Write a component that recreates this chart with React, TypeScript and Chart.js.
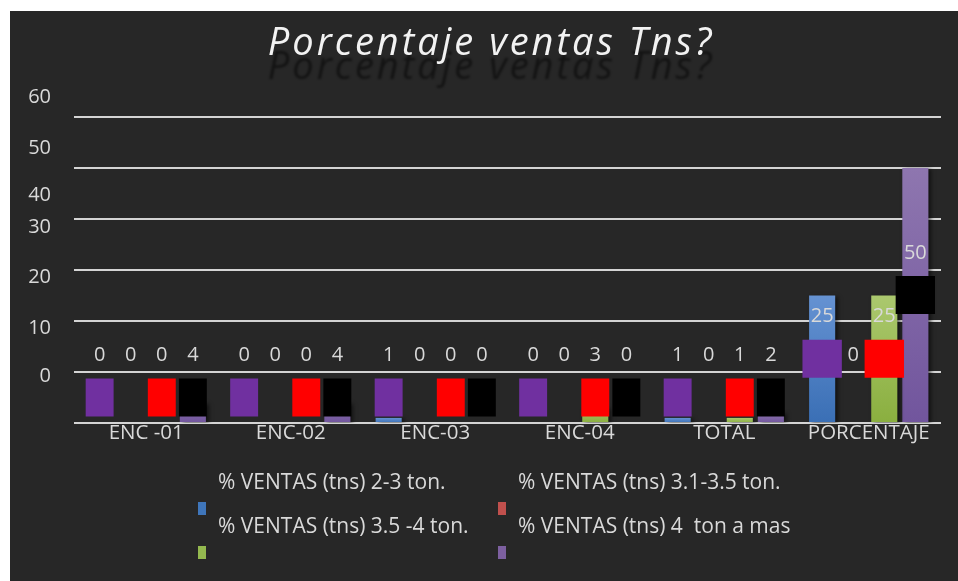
import React, { useEffect, useRef } from "react";
import { Chart, registerables } from "chart.js";

Chart.register(...registerables);

// ---------- data ----------
const titleText = "Porcentaje ventas Tns?";
const categories = ["ENC -01", "ENC-02", "ENC-03", "ENC-04", "TOTAL", "PORCENTAJE"];
const seriesNames = [
  "% VENTAS (tns) 2-3 ton.",
  "% VENTAS (tns) 3.1-3.5 ton.",
  "% VENTAS (tns) 3.5 -4 ton.",
  "% VENTAS (tns) 4  ton a mas",
];
const ventas2a3 = [0, 0, 1, 0, 1, 25];
const ventas31a35 = [0, 0, 0, 0, 0, 0];
const ventas35a4 = [0, 0, 0, 3, 1, 25];
const ventas4mas = [4, 4, 0, 0, 2, 50];
const yTickLabels = ["0", "10", "20", "30", "40", "50", "60"];
const yTickValues = [0, 10, 20, 30, 40, 50, 60];

// ---------- styles ----------
const FONT = '"Open Sans", "DejaVu Sans", sans-serif';
const TEXT = "#d9d9d9";
const BG = "#272727";
const barGradients = [
  ["#6592d2", "#3a6fb5"],
  ["#d0605c", "#b03c39"],
  ["#abc86e", "#8aaf3f"],
  ["#8e76af", "#71559d"],
];
const legendColors = ["#3f76bb", "#c0504d", "#94b94f", "#7d60a0"];
const boxColors = ["#7030a0", null, "#ff0000", "#000000"];
const yLabelShift = [47, 44, 44, 43, 24, 20, 20];

function gradFill(i: number) {
  return (ctx: any) => {
    const chart = ctx.chart;
    const area = chart.chartArea;
    if (!area || ctx.type !== "data") return barGradients[i][1];
    const ys = chart.scales.y;
    const top = ys.getPixelForValue(ctx.raw);
    const base = ys.getPixelForValue(0);
    if (base - top < 1) return barGradients[i][1];
    const g = chart.ctx.createLinearGradient(0, top, 0, base);
    g.addColorStop(0, barGradients[i][0]);
    g.addColorStop(1, barGradients[i][1]);
    return g;
  };
}

const decorPlugin = {
  id: "decor",
  beforeDatasetsDraw(chart: any) {
    const ctx = chart.ctx;
    ctx.save();
    ctx.shadowColor = "rgba(0,0,0,0.55)";
    ctx.shadowBlur = 4;
    ctx.shadowOffsetX = 3;
    ctx.shadowOffsetY = 1;
  },
  afterDatasetsDraw(chart: any) {
    const ctx = chart.ctx;
    ctx.restore();
    const ys = chart.scales.y;
    const minCenter = ys.getPixelForValue(5);
    ctx.save();
    ctx.font = `20px ${FONT}`;
    const items: any[] = [];
    chart.data.datasets.forEach((ds: any, i: number) => {
      const meta = chart.getDatasetMeta(i);
      meta.data.forEach((bar: any, j: number) => {
        const center = (bar.y + bar.base) / 2;
        const cy = Math.min(center, minCenter);
        items.push({ i, x: bar.x, cy, text: String(ds.data[j]) });
      });
    });
    // label boxes
    items.forEach((it) => {
      const c = boxColors[it.i];
      if (!c) return;
      const w = ctx.measureText(it.text).width + 16.5;
      ctx.fillStyle = c;
      ctx.fillRect(it.x - w / 2, it.cy - 19, w, 38);
    });
    // value labels
    ctx.fillStyle = TEXT;
    ctx.textAlign = "center";
    ctx.textBaseline = "middle";
    items.forEach((it) => {
      ctx.fillText(it.text, it.x, it.cy - 42);
    });
    ctx.restore();
  },
  afterDraw(chart: any) {
    const ctx = chart.ctx;
    const area = chart.chartArea;
    const xs = chart.scales.x;
    const ys = chart.scales.y;
    ctx.save();
    // title with shadow-reflection
    ctx.font = `italic 38px ${FONT}`;
    ctx.textAlign = "center";
    ctx.textBaseline = "alphabetic";
    (ctx as any).letterSpacing = "3px";
    ctx.save();
    ctx.filter = "blur(1px)";
    ctx.fillStyle = "rgba(0,0,0,0.5)";
    ctx.fillText(titleText, 481, 68);
    ctx.restore();
    ctx.fillStyle = "#f2f2f2";
    ctx.fillText(titleText, 481, 44);
    (ctx as any).letterSpacing = "0px";

    // y tick labels
    ctx.font = `20px ${FONT}`;
    ctx.fillStyle = TEXT;
    ctx.textAlign = "right";
    ctx.textBaseline = "middle";
    yTickValues.forEach((v, k) => {
      ctx.fillText(yTickLabels[k], 41, ys.getPixelForValue(v) - yLabelShift[k]);
    });

    // x labels
    ctx.font = `20.5px ${FONT}`;
    ctx.textAlign = "center";
    ctx.textBaseline = "alphabetic";
    categories.forEach((c, j) => {
      ctx.fillText(c, xs.getPixelForValue(j), area.bottom + 16);
    });

    // legend
    ctx.font = `21px ${FONT}`;
    const cols = [208, 508];
    const rows = [478, 522];
    ctx.textAlign = "left";
    seriesNames.forEach((name, i) => {
      const col = i % 2;
      const row = Math.floor(i / 2);
      ctx.fillStyle = TEXT;
      ctx.fillText(name, cols[col], rows[row]);
      ctx.fillStyle = legendColors[i];
      ctx.fillRect(cols[col] - 20, rows[row] + 13, 8, 13);
    });
    ctx.restore();
  },
};

export default function App() {
  const ref = useRef<HTMLCanvasElement | null>(null);
  useEffect(() => {
    if (!ref.current) return;
    const seriesData = [ventas2a3, ventas31a35, ventas35a4, ventas4mas];
    const chart = new Chart(ref.current, {
      type: "bar",
      data: {
        labels: categories,
        datasets: seriesData.map((d, i) => ({
          label: seriesNames[i],
          data: d,
          backgroundColor: gradFill(i),
          borderWidth: 0,
          categoryPercentage: 0.86,
          barPercentage: 0.84,
        })),
      },
      options: {
        animation: false,
        responsive: true,
        maintainAspectRatio: false,
        layout: { padding: { left: 64, right: 17, top: 106, bottom: 158 } },
        plugins: {
          legend: { display: false },
          title: { display: false },
          tooltip: { enabled: false },
        },
        scales: {
          x: {
            grid: { display: false, drawTicks: false },
            border: { display: false },
            ticks: { display: false },
          },
          y: {
            min: 0,
            max: 60,
            grid: { color: "#d4d4d4", lineWidth: 2, drawTicks: false },
            border: { display: false },
            ticks: { display: false, stepSize: 10 },
          },
        },
      },
      plugins: [decorPlugin],
    });
    return () => chart.destroy();
  }, []);
  return (
    <div
      style={{
        position: "absolute",
        left: 10,
        top: 11,
        width: 948,
        height: 570,
        background: BG,
      }}
    >
      <canvas ref={ref} />
    </div>
  );
}
